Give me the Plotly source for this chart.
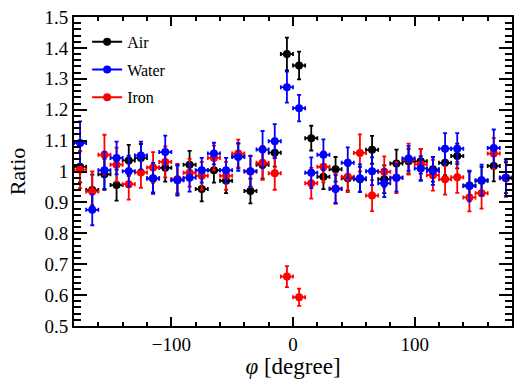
import plotly.graph_objects as go

# bin centres of phi [degree]
phi = [-175, -165, -155, -145, -135, -125, -115, -105, -95, -85, -75, -65,
       -55, -45, -35, -25, -15, -5, 5, 15, 25, 35, 45, 55,
       65, 75, 85, 95, 105, 115, 125, 135, 145, 155, 165, 175]
phi_halfwidth = 5

air = [1.015, 0.94, 0.991, 0.956, 1.036, 1.044, 0.977, 1.012, 0.974, 1.022, 0.943, 1.004,
       0.970, 1.050, 0.937, 1.022, 1.061, 1.380, 1.343, 1.108, 0.983, 1.007, 0.978, 0.975,
       1.070, 0.975, 1.026, 1.033, 1.033, 1.007, 1.028, 1.050, 0.955, 0.970, 1.018, 0.980]
air_err = [0.05, 0.05, 0.05, 0.05, 0.05, 0.045, 0.045, 0.045, 0.045, 0.045, 0.04, 0.04,
           0.04, 0.04, 0.04, 0.045, 0.045, 0.053, 0.045, 0.04, 0.04, 0.04, 0.04, 0.04,
           0.045, 0.045, 0.045, 0.04, 0.04, 0.04, 0.04, 0.04, 0.045, 0.045, 0.05, 0.05]

water = [1.092, 0.876, 1.004, 1.044, 1.001, 1.052, 0.978, 1.063, 0.972, 0.980, 1.004, 1.058,
         1.004, 1.047, 1.001, 1.071, 1.098, 1.273, 1.205, 0.996, 1.054, 0.943, 1.028, 0.978,
         1.001, 0.962, 0.980, 1.042, 1.010, 1.002, 1.074, 1.074, 0.953, 0.972, 1.076, 0.980]
water_err = [0.07, 0.05, 0.06, 0.053, 0.05, 0.045, 0.05, 0.053, 0.05, 0.045, 0.04, 0.035,
             0.04, 0.045, 0.05, 0.06, 0.055, 0.05, 0.043, 0.05, 0.05, 0.045, 0.05, 0.045,
             0.045, 0.045, 0.045, 0.04, 0.04, 0.045, 0.05, 0.05, 0.05, 0.05, 0.06, 0.06]

iron = [1.006, 0.935, 1.054, 1.022, 0.959, 0.997, 1.013, 1.031, 0.975, 0.996, 0.986, 1.044,
        0.986, 1.058, 1.000, 1.028, 0.994, 0.660, 0.593, 0.962, 1.015, 0.945, 0.983, 1.060,
        0.922, 0.999, 0.980, 1.040, 1.023, 0.988, 0.975, 0.981, 0.916, 0.930, 1.058, 0.978]
iron_err = [0.06, 0.065, 0.065, 0.055, 0.05, 0.05, 0.05, 0.05, 0.05, 0.045, 0.045, 0.04,
            0.045, 0.045, 0.05, 0.055, 0.053, 0.034, 0.028, 0.05, 0.05, 0.05, 0.05, 0.06,
            0.05, 0.05, 0.05, 0.05, 0.05, 0.05, 0.05, 0.05, 0.045, 0.05, 0.05, 0.06]

series = {"Air": (air, air_err, "#000000"),
          "Water": (water, water_err, "#0000ff"),
          "Iron": (iron, iron_err, "#ff0000")}
draw_order = ["Air", "Iron", "Water"]
legend_order = ["Air", "Water", "Iron"]

FONT = "Liberation Serif"
fig = go.Figure()

for name in draw_order:
    vals, errs, col = series[name]
    fig.add_trace(go.Scatter(
        x=phi, y=vals, mode="markers", name=name, showlegend=False,
        marker=dict(color=col, size=8),
        error_x=dict(type="constant", value=phi_halfwidth, color=col, thickness=1.8, width=2),
        error_y=dict(type="data", array=errs, color=col, thickness=1.8, width=2),
    ))

# legend entries
for name in legend_order:
    vals, errs, col = series[name]
    fig.add_trace(go.Scatter(
        x=[None], y=[None], mode="lines+markers", name=name, legendgroup=name,
        marker=dict(color=col, size=8), line=dict(color=col, width=2),
    ))

axis_common = dict(showline=True, linecolor="black", linewidth=2, mirror="allticks",
                   ticks="inside", tickcolor="black", tickwidth=2,
                   showgrid=False, zeroline=False,
                   tickfont=dict(family=FONT, size=19, color="black"))

fig.update_xaxes(range=[-180, 180], tickmode="linear", tick0=-100, dtick=100, ticklen=9,
                 minor=dict(ticks="inside", dtick=20, tick0=0, ticklen=4, tickcolor="black", tickwidth=1.5),
                 title=dict(text="<i>φ</i> [degree]", font=dict(family=FONT, size=23, color="black"), standoff=6),
                 **axis_common)
fig.update_yaxes(range=[0.5, 1.5], tickmode="linear", tick0=0.5, dtick=0.1, ticklen=13,
                 minor=dict(ticks="inside", dtick=0.02, tick0=0.5, ticklen=7, tickcolor="black", tickwidth=1.5),
                 title=dict(text="Ratio", font=dict(family=FONT, size=22, color="black"), standoff=13),
                 **axis_common)

fig.update_layout(
    width=516, height=379,
    margin=dict(l=74, r=2, t=17, b=49),
    paper_bgcolor="white", plot_bgcolor="white",
    font=dict(family=FONT, color="black"),
    legend=dict(x=0.03, y=0.975, xanchor="left", yanchor="top",
                bgcolor="rgba(0,0,0,0)", traceorder="grouped", tracegroupgap=4,
                font=dict(family=FONT, size=16, color="black")),
)

fig.write_html("out.html")
